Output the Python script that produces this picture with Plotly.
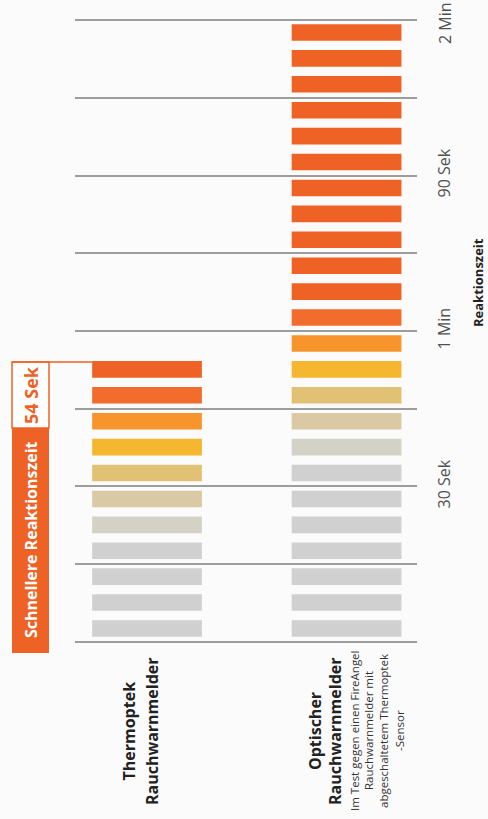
import plotly.graph_objects as go

# ---- data ----
categories = ["Thermoptek", "Optischer"]
segment_seconds = 5
thermo_colors = ["#cfd0cf", "#cfd0cf", "#cfd0cf", "#cfd0cf", "#d4d1c6", "#d9c9a4",
                 "#e1c174", "#f5b730", "#f7952c", "#f26d2d", "#ee6226"]
optical_colors = ["#cfd0cf", "#cfd0cf", "#cfd0cf", "#cfd0cf", "#cfd0cf", "#cfd0cf", "#cfd0cf",
                  "#d4d1c6", "#d9c9a4", "#e1c174", "#f5b730", "#f7952c", "#f26d2d",
                  "#ee6226", "#ee6226", "#ee6226", "#ee6226", "#ee6226", "#ee6226",
                  "#ee6226", "#ee6226", "#ee6226", "#ee6226", "#ee6226"]
thermo_time = 54
tick_values = [0, 15, 30, 45, 60, 75, 90, 105, 120]
tick_labels = ["", "", "30 Sek", "", "1 Min", "", "90 Sek", "", "2 Min"]

ORANGE = "#ee6226"
FONT = "Open Sans"

W, H = 488, 819
ML, MR, MT, MB = 75, 71, 19, 176
PW, PH = W - ML - MR, H - MT - MB
Y0, Y1 = -0.2, 120.2
TICK_FONT = dict(family=FONT, size=16, color="#505050")


def px(xr):
    return (xr - ML) / PW


def py(yr):
    return ((H - MB) - yr) / PH


fig = go.Figure()
bar_width = 0.55
seg_fill = 3.2
for cat, cols in zip(categories, [thermo_colors, optical_colors]):
    n = len(cols)
    fig.add_trace(go.Bar(
        x=[cat] * n,
        y=[seg_fill] * n,
        base=[i * segment_seconds + 1.0 for i in range(n)],
        width=bar_width,
        marker=dict(color=cols, line=dict(width=0)),
        showlegend=False,
        hoverinfo="skip",
    ))

# last label (at the top edge) is placed as an annotation so it stays inside the page
axis_labels = tick_labels[:-1] + [""]

fig.update_layout(
    width=W, height=H,
    margin=dict(l=ML, r=MR, t=MT, b=MB),
    paper_bgcolor="#fbfbfb",
    plot_bgcolor="#fbfbfb",
    barmode="overlay",
    font=dict(family=FONT, color="#333333"),
    xaxis=dict(type="category", range=[-0.361, 1.353], showticklabels=False,
               showgrid=False, zeroline=False, showline=False, ticks=""),
    yaxis=dict(range=[Y0, Y1], side="right", tickmode="array",
               tickvals=tick_values, ticktext=axis_labels, tickangle=-90,
               showgrid=True, gridcolor="#9d9d9d", gridwidth=1.5,
               zeroline=False, showline=False, ticks="", ticklabelstandoff=16,
               automargin=False, ticklabeloverflow="allow",
               tickfont=TICK_FONT),
)

shapes = [
    dict(type="rect", xref="paper", yref="paper", x0=px(12), x1=px(49),
         y0=py(653), y1=py(428), fillcolor=ORANGE, line=dict(width=0), layer="above"),
    dict(type="rect", xref="paper", yref="paper", x0=px(12), x1=px(49),
         y0=py(428), y1=(thermo_time - Y0) / (Y1 - Y0), fillcolor="white",
         line=dict(color=ORANGE, width=1.5), layer="above"),
    dict(type="line", xref="paper", yref="y", x0=px(12), x1=px(92),
         y0=thermo_time, y1=thermo_time, line=dict(color=ORANGE, width=1.5), layer="above"),
]
fig.update_layout(shapes=shapes)

ann = [
    dict(text="<b>Reaktionszeit</b>", x=px(478), y=py(283), font=dict(size=13, color="#222222")),
    dict(text="<b>Thermoptek</b>", x=px(128.5), y=py(731), font=dict(size=16, color="#222222")),
    dict(text="<b>Rauchwarnmelder</b>", x=px(152), y=py(731), font=dict(size=16, color="#222222")),
    dict(text="<b>Optischer</b>", x=px(315), y=py(731), font=dict(size=16, color="#222222")),
    dict(text="<b>Rauchwarnmelder</b>", x=px(335), y=py(731), font=dict(size=16, color="#222222")),
    dict(text="Im Test gegen einen FireAngel", x=px(354), y=py(731), font=dict(size=11.5, color="#333333")),
    dict(text="Rauchwarnmelder mit", x=px(368), y=py(731), font=dict(size=11.5, color="#333333")),
    dict(text="abgeschaltetem Thermoptek", x=px(383), y=py(731), font=dict(size=11.5, color="#333333")),
    dict(text="-Sensor", x=px(399), y=py(731), font=dict(size=11.5, color="#333333")),
    dict(text="<b>Schnellere Reaktionszeit</b>", x=px(31), y=py(540), font=dict(size=16, color="white")),
    dict(text="<b>54 Sek</b>", x=px(31), y=py(395), font=dict(size=18, color=ORANGE)),
]
for a in ann:
    a.update(xref="paper", yref="paper", showarrow=False, xanchor="center",
             yanchor="middle", textangle=-90)
ann.append(dict(text=tick_labels[-1], xref="paper", yref="y", x=px(445), y=tick_values[-1],
                yshift=-3, showarrow=False, xanchor="center", yanchor="middle",
                textangle=-90, font=TICK_FONT))
fig.update_layout(annotations=ann)

fig.write_html(
    "out.html",
    config={"displayModeBar": False},
    post_script="document.body.style.margin='0';document.body.style.overflow='hidden';",
)
